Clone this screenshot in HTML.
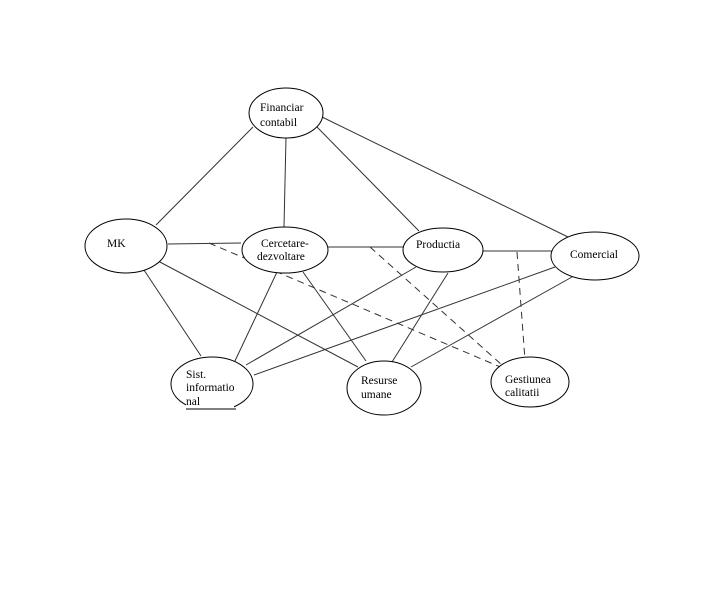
<!DOCTYPE html>
<html><head><meta charset="utf-8"><style>
html,body{margin:0;padding:0;background:#fff;}
svg{display:block;}
text{font-family:"Liberation Serif",serif;font-size:11.5px;fill:#000;}
</style></head><body>
<svg width="728" height="610" viewBox="0 0 728 610" xmlns="http://www.w3.org/2000/svg">
<g stroke="#333" stroke-width="1" fill="none">
<line x1="253" y1="127" x2="156" y2="225"/>
<line x1="286" y1="137" x2="284" y2="227"/>
<line x1="317" y1="127" x2="419" y2="231"/>
<line x1="322" y1="117" x2="568" y2="237"/>
<line x1="168" y1="244" x2="241" y2="243"/>
<line x1="328" y1="247" x2="403" y2="247"/>
<line x1="482" y1="251" x2="552" y2="251"/>
<line x1="142" y1="267" x2="201" y2="356"/>
<line x1="158" y1="261" x2="358" y2="367"/>
<line x1="277" y1="272" x2="234" y2="363"/>
<line x1="303" y1="272" x2="366" y2="361"/>
<line x1="416" y1="267" x2="246" y2="365"/>
<line x1="448" y1="273" x2="392" y2="362"/>
<line x1="555" y1="267" x2="254" y2="375"/>
<line x1="572" y1="277" x2="411" y2="367"/>
<g stroke-dasharray="7,5">
<line x1="209" y1="243" x2="505" y2="369"/>
<line x1="370" y1="247" x2="502" y2="365"/>
<line x1="517" y1="252" x2="525" y2="360"/>
</g>
</g>
<g stroke="#000" stroke-width="1" fill="#fff">
<ellipse cx="286" cy="113" rx="37" ry="25"/>
<ellipse cx="126" cy="246" rx="41" ry="27"/>
<ellipse cx="285" cy="250" rx="43" ry="23"/>
<ellipse cx="443" cy="250" rx="40" ry="22"/>
<ellipse cx="595" cy="256" rx="44" ry="24"/>
<ellipse cx="212" cy="384" rx="41" ry="27"/>
<ellipse cx="384" cy="388" rx="37" ry="27"/>
<ellipse cx="530" cy="382" rx="39" ry="25"/>
</g>
<rect x="186" y="400" width="48" height="14" fill="#fff"/>
<line x1="186" y1="409" x2="236" y2="409" stroke="#000"/>
<text x="260" y="111">Financiar</text>
<text x="260" y="126">contabil</text>
<text x="107" y="247">MK</text>
<text x="261" y="247">Cercetare-</text>
<text x="257" y="260">dezvoltare</text>
<text x="416" y="248">Productia</text>
<text x="570" y="258">Comercial</text>
<text x="186" y="378">Sist.</text>
<text x="186" y="391">informatio</text>
<text x="186" y="405">nal</text>
<text x="361" y="384">Resurse</text>
<text x="361" y="398">umane</text>
<text x="505" y="383">Gestiunea</text>
<text x="505" y="396">calitatii</text>
</svg>
</body></html>
